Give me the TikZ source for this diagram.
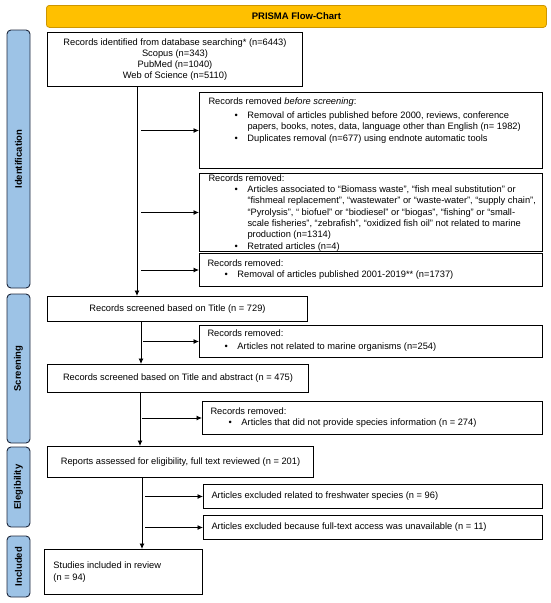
\documentclass[tikz,border=0pt]{standalone}
\usepackage{fontspec}
\setmainfont{Liberation Sans}
\usetikzlibrary{arrows.meta}
\definecolor{sidefill}{RGB}{157,195,230}
\definecolor{sidedraw}{RGB}{30,40,60}
\definecolor{titlefill}{RGB}{255,192,0}
\definecolor{titledraw}{RGB}{205,150,0}
\newcommand\bxt[3]{\begin{minipage}[c][#2][c]{#1}\fontsize{9.3pt}{11.2pt}\selectfont\raggedright\hyphenpenalty=10000 #3\end{minipage}}
\newcommand\bitem[4]{\par\noindent\hspace*{#1}\makebox[#2][l]{\textbullet}\parbox[t]{#3}{\raggedright\hyphenpenalty=10000 #4\strut}\par}
\tikzset{
  box/.style={draw=black, line width=1pt, inner sep=0pt, anchor=north west},
  side/.style={draw=sidedraw, fill=sidefill, line width=0.9pt, rounded corners=4pt, inner sep=0pt,
    font=\fontsize{9.5pt}{11pt}\selectfont\bfseries, text=black},
  titlebox/.style={draw=titledraw, fill=titlefill, line width=0.8pt, rounded corners=3pt, inner sep=0pt,
    font=\fontsize{9.5pt}{11pt}\selectfont\bfseries, anchor=north west},
  arr/.style={line width=0.8pt, -{Latex[length=5.5pt,width=5pt]}}
}
\begin{document}
\begin{tikzpicture}[x=1pt,y=-1pt]
\useasboundingbox (0,0) rectangle (550,603);
% title
\node[titlebox, minimum width=500pt, minimum height=22pt] (title) at (46,5) {PRISMA Flow-Chart};
% side bars
\node[side, minimum width=258pt, minimum height=23pt, rotate=90] (sid) at (18.5,159) {Identification};
\node[side, minimum width=149pt, minimum height=23pt, rotate=90] (ssc) at (18.5,368.5) {Screening};
\node[side, minimum width=80pt, minimum height=23pt, rotate=90] (sel) at (18.5,487) {Elegibility};
\node[side, minimum width=61pt, minimum height=23pt, rotate=90] (sin) at (18.5,566.5) {Included};
% boxes
\node[box] (b1) at (47,32) {\bxt{255pt}{54pt}{\centering Records identified from database searching* (n=6443)\\ Scopus (n=343)\\ PubMed (n=1040)\\ Web of Science (n=5110)\par}};
\node[box] (b2) at (199,92) {\bxt{343pt}{76pt}{\leftskip=9pt Records removed \textit{before screening}:\par\vspace{2.8pt}
\bitem{26pt}{13pt}{300pt}{Removal of articles published before 2000, reviews, conference\\papers, books, notes, data, language other than English (n= 1982)}
\bitem{26pt}{13pt}{300pt}{Duplicates removal (n=677) using endnote automatic tools}
\vspace{18pt}}};
\node[box] (b3) at (199,173) {\bxt{343pt}{78pt}{\vspace*{3pt}\leftskip=9pt Records removed:\par
\bitem{26pt}{13pt}{305pt}{Articles associated to “Biomass waste”, “fish meal substitution” or\\“fishmeal replacement”, “wastewater” or “waste-water”, “supply chain”,\\“Pyrolysis”, “ biofuel” or “biodiesel” or “biogas”, “fishing” or “small-\\scale fisheries”, “zebrafish”, “oxidized fish oil” not related to marine\\production (n=1314)}
\bitem{26pt}{13pt}{300pt}{Retrated articles (n=4)}}};
\node[box] (b4) at (199,253) {\bxt{343pt}{33pt}{\leftskip=8pt Records removed:\par
\bitem{17pt}{13pt}{300pt}{Removal of articles published 2001-2019** (n=1737)}}};
\node[box] (b5) at (47,296) {\bxt{260pt}{25pt}{\centering Records screened based on Title (n = 729)\par}};
\node[box] (b6) at (199,325) {\bxt{343pt}{32pt}{\leftskip=8pt Records removed:\par\vspace{1.5pt}
\bitem{17pt}{13pt}{300pt}{Articles not related to marine organisms (n=254)}}};
\node[box] (b7) at (47,364) {\bxt{261pt}{28pt}{\centering Records screened based on Title and abstract (n = 475)\par}};
\node[box] (b8) at (202,401) {\bxt{340pt}{33pt}{\leftskip=8pt Records removed:\par
\bitem{18pt}{13pt}{300pt}{Articles that did not provide species information (n = 274)}}};
\node[box] (b9) at (47,446) {\bxt{266pt}{31pt}{\centering Reports assessed for eligibility, full text reviewed (n = 201)\par}};
\node[box] (b10) at (203,484) {\bxt{339pt}{24pt}{\leftskip=8pt Articles excluded related to freshwater species (n = 96)\par}};
\node[box] (b11) at (203,515) {\bxt{339pt}{24pt}{\leftskip=8pt Articles excluded because full-text access was unavailable (n = 11)\par}};
\node[box] (b12) at (44,549) {\bxt{158pt}{45pt}{\leftskip=9pt Studies included in review\\(n = 94)\par}};
% connector columns
\coordinate (v1) at (137,0);
\coordinate (s1) at (141,0);
\coordinate (v2) at (141,0);
\coordinate (s2) at (143,0);
\coordinate (v3) at (140,0);
\coordinate (s3) at (142,0);
\coordinate (v4) at (142,0);
\coordinate (s4) at (145,0);
\draw[arr] (b1.south -| v1) -- (b5.north -| v1);
\draw[arr] (b2.west -| s1) -- (b2.west);
\draw[arr] (b3.west -| s1) -- (b3.west);
\draw[arr] (b4.west -| s1) -- (b4.west);
\draw[arr] (b5.south -| v2) -- (b7.north -| v2);
\draw[arr] (b6.west -| s2) -- (b6.west);
\draw[arr] (b7.south -| v3) -- (b9.north -| v3);
\draw[arr] (b8.west -| s3) -- (b8.west);
\draw[arr] (b9.south -| v4) -- (b12.north -| v4);
\draw[arr] (b10.west -| s4) -- (b10.west);
\draw[arr] (b11.west -| s4) -- (b11.west);
\end{tikzpicture}
\end{document}
